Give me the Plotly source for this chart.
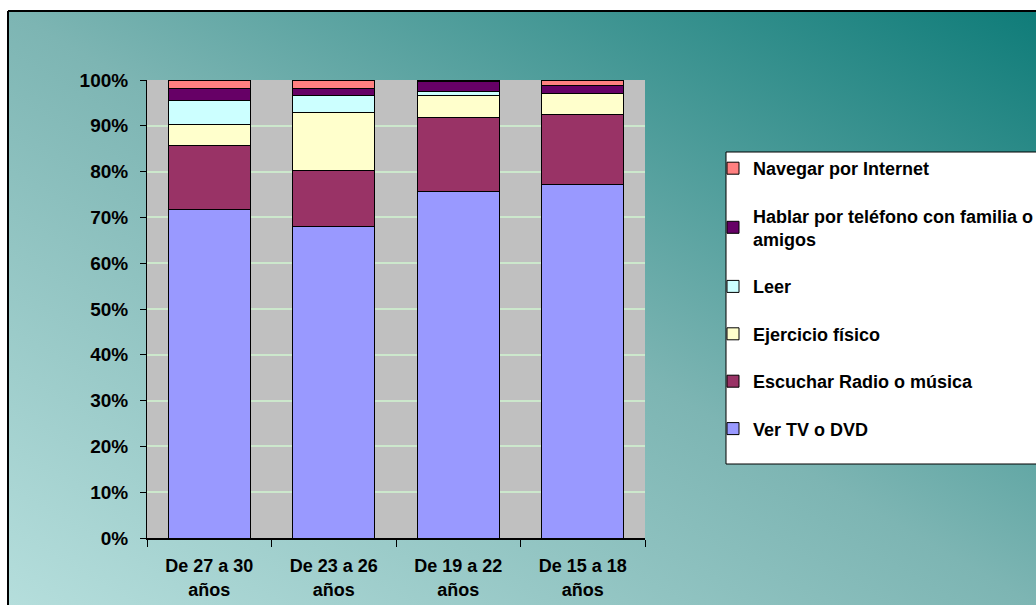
import base64
import plotly.graph_objects as go

# Age groups (x categories) and share of free-time activities (%)
categories = ["De 27 a 30<br>años", "De 23 a 26<br>años", "De 19 a 22<br>años", "De 15 a 18<br>años"]
ver_tv = [71.8, 68.1, 75.6, 77.2]
escuchar_radio = [13.8, 12.2, 16.3, 15.3]
ejercicio_fisico = [4.7, 12.7, 4.8, 4.5]
leer = [5.2, 3.6, 0.8, 0.0]
hablar_telefono = [2.7, 1.6, 2.1, 1.9]
navegar_internet = [1.8, 1.8, 0.4, 1.1]

y_ticks = list(range(0, 101, 10))
y_tick_labels = [f"{v}%" for v in y_ticks]

# Stacked bottom to top
series = [
    ("Ver TV o DVD", ver_tv, "#9999FF"),
    ("Escuchar Radio o música", escuchar_radio, "#993366"),
    ("Ejercicio físico", ejercicio_fisico, "#FFFFCC"),
    ("Leer", leer, "#CCFFFF"),
    ("Hablar por teléfono con familia o<br>amigos", hablar_telefono, "#660066"),
    ("Navegar por Internet", navegar_internet, "#FF8080"),
]

W, H = 1036, 605
L, R, T, B = 147, 391, 80, 67
PW, PH = W - L - R, H - T - B

FONT = "Liberation Sans, Arial, sans-serif"

# Teal diagonal gradient backdrop with a thin frame
svg = f"""<svg xmlns='http://www.w3.org/2000/svg' width='{W}' height='{H}' viewBox='0 0 {W} {H}'>
<defs><linearGradient id='g' x1='0' y1='1' x2='1' y2='0'>
<stop offset='0' stop-color='#B5DEDC'/>
<stop offset='0.5' stop-color='#7DB5B3'/>
<stop offset='1' stop-color='#0F7C79'/>
</linearGradient></defs>
<rect x='0' y='0' width='{W}' height='{H}' fill='#FFFFFF'/>
<rect x='8' y='11' width='{W - 8}' height='{H - 11}' fill='url(#g)'/>
<line x1='8' y1='11' x2='{W}' y2='11' stroke='#000000' stroke-width='2'/>
<line x1='8' y1='11' x2='8' y2='{H}' stroke='#000000' stroke-width='2'/>
</svg>"""
bg_src = "data:image/svg+xml;base64," + base64.b64encode(svg.encode("utf-8")).decode("ascii")


def px_x(p):
    return (p - L) / PW


def px_y(p):
    return (H - B - p) / PH


fig = go.Figure()
n = len(series)
for i, (name, values, color) in enumerate(series):
    fig.add_trace(go.Bar(
        x=categories,
        y=values,
        name=name,
        legendgroup=name,
        legendrank=n - i,  # top segment listed first in the legend
        marker=dict(color=color, line=dict(color="#000000", width=1)),
        width=0.66,
        hoverinfo="x+y+name",
    ))

fig.update_layout(
    width=W,
    height=H,
    barmode="stack",
    margin=dict(l=L, r=R, t=T, b=B, autoexpand=False),
    paper_bgcolor="#FFFFFF",
    plot_bgcolor="rgba(0,0,0,0)",
    font=dict(family=FONT, size=18, color="#000000"),
    showlegend=True,
    legend=dict(
        x=px_x(713),
        y=px_y(150),
        xanchor="left",
        yanchor="top",
        bgcolor="rgba(0,0,0,0)",
        borderwidth=0,
        traceorder="grouped",
        tracegroupgap=21,
        font=dict(family=FONT, size=18, color="#000000", weight="bold"),
    ),
    images=[dict(
        source=bg_src,
        xref="paper", yref="paper",
        x=px_x(0), y=px_y(0),
        sizex=W / PW, sizey=H / PH,
        xanchor="left", yanchor="top",
        sizing="stretch",
        layer="below",
    )],
    shapes=[
        # grey plot area
        dict(type="rect", xref="x domain", yref="y domain", x0=0, x1=1, y0=0, y1=1,
             fillcolor="#C0C0C0", line=dict(width=0), layer="below"),
        # legend box
        dict(type="rect", xref="paper", yref="paper",
             x0=px_x(726), x1=px_x(1060), y0=px_y(464), y1=px_y(152),
             fillcolor="#FFFFFF", line=dict(color="#000000", width=1), layer="below"),
    ],
)

fig.update_xaxes(
    type="category",
    showline=True, linecolor="#000000", linewidth=1.5,
    ticks="outside", tickson="boundaries", ticklen=7, tickcolor="#000000",
    showgrid=False,
    tickfont=dict(family=FONT, size=18, color="#000000", weight="bold"),
    ticklabelstandoff=11,
)
fig.update_yaxes(
    range=[0, 100],
    tickvals=y_ticks, ticktext=y_tick_labels,
    showline=True, linecolor="#000000", linewidth=1,
    ticks="outside", ticklen=6, tickcolor="#000000",
    showgrid=True, gridcolor="#CCE8CC", gridwidth=1.5,
    zeroline=False,
    tickfont=dict(family=FONT, size=19, color="#000000", weight="bold"),
    ticklabelstandoff=8,
)

fig.write_html("out.html")
